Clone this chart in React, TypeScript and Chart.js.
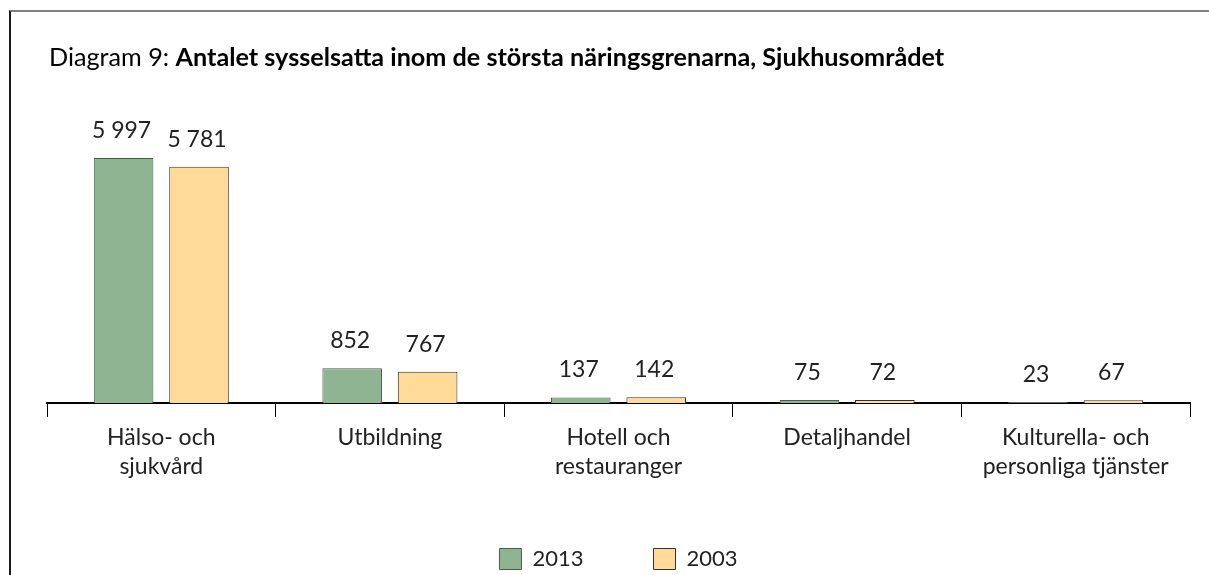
import { useEffect, useRef } from "react";
import { Chart, registerables } from "chart.js";

Chart.register(...registerables);

const categories: (string | string[])[] = [
  ["Hälso- och", "sjukvård"],
  "Utbildning",
  ["Hotell och", "restauranger"],
  "Detaljhandel",
  ["Kulturella- och", "personliga tjänster"],
];
const seriesLabels = ["2013", "2003"];
const values2013 = [5997, 852, 137, 75, 23];
const values2003 = [5781, 767, 142, 72, 67];
const titlePrefix = "Diagram 9: ";
const titleBold = "Antalet sysselsatta inom de största näringsgrenarna, Sjukhusområdet";

const FONT = "Lato";
const W = 1209;
const H = 575;
const AXIS_Y = 403;
const PAD_BOTTOM = -5;

const fmt = (v: number) => String(v).replace(/\B(?=(\d{3})+(?!\d))/g, " ");

const titlePlugin = {
  id: "titleText",
  afterDraw(chart: any) {
    const ctx = chart.ctx;
    ctx.save();
    ctx.fillStyle = "#000";
    ctx.textBaseline = "alphabetic";
    ctx.textAlign = "left";
    ctx.font = `25.2px ${FONT}`;
    const x0 = 49;
    const y0 = 66;
    ctx.fillText(titlePrefix, x0, y0);
    const w = ctx.measureText(titlePrefix).width;
    ctx.font = `bold 25.2px ${FONT}`;
    ctx.fillText(titleBold, x0 + w, y0);
    ctx.restore();
  },
};

const valueLabels = {
  id: "valueLabels",
  afterDatasetsDraw(chart: any) {
    const ctx = chart.ctx;
    ctx.save();
    ctx.fillStyle = "#222";
    ctx.font = `23px ${FONT}`;
    ctx.textAlign = "center";
    ctx.textBaseline = "alphabetic";
    chart.data.datasets.forEach((ds: any, i: number) => {
      const meta = chart.getDatasetMeta(i);
      meta.data.forEach((el: any, j: number) => {
        ctx.fillText(fmt(ds.data[j]), el.x - 2, el.y - 20);
      });
    });
    ctx.restore();
  },
};

export default function App() {
  const ref = useRef<HTMLCanvasElement>(null);
  useEffect(() => {
    if (!ref.current) return;
    const chart = new Chart(ref.current, {
      type: "bar",
      data: {
        labels: categories,
        datasets: [
          {
            label: seriesLabels[0],
            data: values2013,
            backgroundColor: "#8FB491",
            borderColor: "#4E5E4E",
            borderWidth: 1,
            categoryPercentage: 0.66,
            barPercentage: 0.79,
          },
          {
            label: seriesLabels[1],
            data: values2003,
            backgroundColor: "#FFDA98",
            borderColor: "#333333",
            borderWidth: 1,
            categoryPercentage: 0.66,
            barPercentage: 0.79,
          },
        ],
      },
      options: {
        animation: false,
        responsive: false,
        maintainAspectRatio: false,
        layout: { padding: { left: 47, right: 19, top: 117, bottom: PAD_BOTTOM } },
        plugins: {
          title: { display: false },
          tooltip: { enabled: false },
          legend: {
            display: true,
            position: "bottom",
            labels: {
              font: { family: FONT, size: 22 },
              color: "#222",
              boxWidth: 22,
              boxHeight: 21,
              padding: 70,
            },
          },
        },
        scales: {
          x: {
            grid: {
              display: true,
              offset: true,
              drawOnChartArea: false,
              drawTicks: true,
              tickLength: 14,
              color: "#000",
              lineWidth: 1,
            },
            border: { display: true, color: "#000", width: 2 },
            ticks: {
              font: { family: FONT, size: 23, lineHeight: 1.25 },
              color: "#222",
              padding: 6,
              maxRotation: 0,
              autoSkip: false,
            },
            afterFit: (scale: any) => {
              const lh = scale.chart.legend ? scale.chart.legend.height : 0;
              scale.height = H - AXIS_Y - lh - PAD_BOTTOM;
            },
          },
          y: {
            display: false,
            min: 0,
            max: 7000,
          },
        },
      },
      plugins: [titlePlugin, valueLabels],
    });
    return () => chart.destroy();
  }, []);

  return (
    <div style={{ position: "fixed", left: 0, top: 0, width: W, height: H, background: "#fff" }}>
      <div
        style={{
          position: "absolute",
          left: 9,
          top: 10,
          width: W,
          height: H,
          borderTop: "2px solid #7f7f7f",
          borderLeft: "2px solid #1a1a1a",
        }}
      />
      <canvas ref={ref} width={W} height={H} style={{ position: "absolute", left: 0, top: 0 }} />
    </div>
  );
}
